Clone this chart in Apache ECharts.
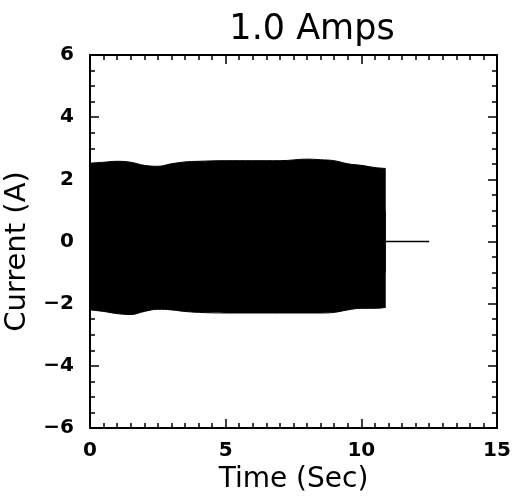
<!DOCTYPE html>
<html><head><meta charset="utf-8">
<script src="https://cdn.jsdelivr.net/npm/echarts@6/dist/echarts.min.js"></script>
<style>html,body{margin:0;padding:0;background:#fff}#c{width:512px;height:498px}</style>
</head><body><div id="c"></div>
<script>
const times = [0, 0.5, 1, 1.5, 2, 2.5, 3, 3.5, 4, 5, 6, 7, 8, 8.5, 9, 9.5, 10, 10.5, 10.9];
const upperEnv = [2.52, 2.55, 2.58, 2.55, 2.45, 2.42, 2.5, 2.56, 2.58, 2.6, 2.6, 2.6, 2.65, 2.63, 2.6, 2.5, 2.45, 2.38, 2.35];
const lowerEnv = [-2.2, -2.25, -2.32, -2.35, -2.25, -2.18, -2.2, -2.25, -2.28, -2.3, -2.3, -2.3, -2.3, -2.3, -2.28, -2.2, -2.15, -2.15, -2.12];
const tailTimes = [10.9, 12.5];
const tailValues = [0, 0];

const chart = echarts.init(document.getElementById('c'));
const font = 'DejaVu Sans';
const tickCommon = {inside: true, length: 9, lineStyle: {color: '#000', width: 1.5}};
const minorCommon = {show: true, length: 5, lineStyle: {color: '#000', width: 1.5}};
const lineCommon = {show: true, onZero: false, lineStyle: {color: '#000', width: 2}};
chart.setOption({
  animation: false,
  title: {text: '1.0 Amps', left: 307, top: 7, textAlign: 'center',
    textStyle: {fontFamily: font, fontSize: 35, fontWeight: 'normal', color: '#000'}},
  grid: {left: 90, right: 15, top: 55, bottom: 70, outerBoundsMode: 'none', containLabel: false},
  xAxis: [
    {type: 'value', min: 0, max: 15, interval: 5, position: 'bottom',
     axisLine: lineCommon, axisTick: tickCommon, minorTick: Object.assign({splitNumber: 10}, minorCommon),
     splitLine: {show: false},
     axisLabel: {fontFamily: font, fontSize: 20, color: '#000', margin: 13, fontWeight: 'bold'},
     name: 'Time (Sec)', nameLocation: 'middle', nameGap: 33,
     nameTextStyle: {fontFamily: font, fontSize: 28, color: '#000'}},
    {type: 'value', min: 0, max: 15, interval: 5, position: 'top',
     axisLine: lineCommon, axisTick: tickCommon, minorTick: Object.assign({splitNumber: 10}, minorCommon),
     splitLine: {show: false}, axisLabel: {show: false}}
  ],
  yAxis: [
    {type: 'value', min: -6, max: 6, interval: 2, position: 'left',
     axisLine: lineCommon, axisTick: tickCommon, minorTick: Object.assign({splitNumber: 4}, minorCommon),
     splitLine: {show: false},
     axisLabel: {fontFamily: font, fontSize: 20, color: '#000', margin: 16, fontWeight: 'bold',
       formatter: v => (v < 0 ? '\u2212' + Math.abs(v) : String(v))},
     name: 'Current (A)', nameLocation: 'middle', nameGap: 52, nameRotate: 90,
     nameTextStyle: {fontFamily: font, fontSize: 29, color: '#000', padding: [0, 20, 0, 0]}},
    {type: 'value', min: -6, max: 6, interval: 2, position: 'right',
     axisLine: lineCommon, axisTick: tickCommon, minorTick: Object.assign({splitNumber: 4}, minorCommon),
     splitLine: {show: false}, axisLabel: {show: false}}
  ],
  series: [
    {type: 'line', data: times.map((t, i) => [t, upperEnv[i]]), symbol: 'none', smooth: 0.4,
     lineStyle: {color: '#000', width: 1}, areaStyle: {color: '#000', opacity: 1, origin: -1}},
    {type: 'line', data: times.map((t, i) => [t, lowerEnv[i]]), symbol: 'none', smooth: 0.4,
     lineStyle: {color: '#000', width: 1}, areaStyle: {color: '#000', opacity: 1, origin: 1}},
    {type: 'line', data: tailTimes.map((t, i) => [t, tailValues[i]]), symbol: 'none',
     lineStyle: {color: '#000', width: 1.5}}
  ]
});
</script></body></html>
